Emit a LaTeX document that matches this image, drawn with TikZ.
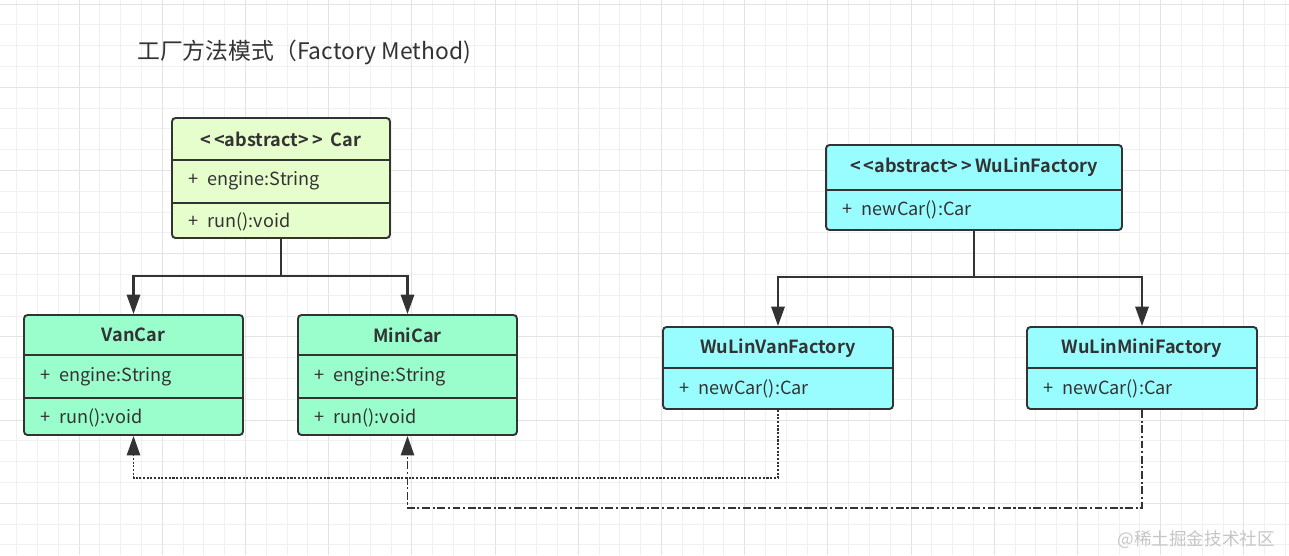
\documentclass[tikz,border=0pt]{standalone}
\usepackage{fontspec}
\setmainfont{Noto Sans CJK SC}[BoldFont={Noto Sans CJK SC Bold}]
\usetikzlibrary{arrows.meta}
\definecolor{carfill}{HTML}{E6FDCC}
\definecolor{subfill}{HTML}{99FDCC}
\definecolor{facfill}{HTML}{99FDFF}
\definecolor{ink}{HTML}{333333}
\def\plus{+\enspace}
\tikzset{
  classbox/.style={draw=ink, line width=1.1pt, rounded corners=2pt, inner sep=0pt},
  sepline/.style={draw=ink, line width=1.1pt},
  classname/.style={font=\bfseries\fontsize{10.3}{12}\selectfont, text=ink},
  member/.style={font=\fontsize{10.3}{12}\selectfont, text=ink, anchor=west, inner sep=0pt},
  inherit/.style={draw=ink, line width=1.4pt, -{Triangle[length=11pt,width=7.5pt]}},
  realizeA/.style={draw=ink, line width=1.1pt, dash pattern=on 1.2pt off 0.9pt, -{Triangle[length=11pt,width=7.5pt]}},
  realizeB/.style={draw=ink, line width=1.1pt, dash pattern=on 4.5pt off 1.5pt on 1.2pt off 1.5pt, -{Triangle[length=11pt,width=7.5pt]}},
}
\begin{document}
\begin{tikzpicture}[x=0.02cm, y=-0.02cm]
\useasboundingbox (0,0) rectangle (1289,555);
\fill[white] (0,0) rectangle (1289,555);

% background grid
\foreach \i in {0,...,61} \draw[gray!12, line width=0.5pt] ({16.7+20.8*\i},0) -- ++(0,555);
\foreach \i in {0,...,26} \draw[gray!12, line width=0.5pt] (0,{4.1+20.8*\i}) -- ++(1289,0);
\foreach \i in {0,...,15} \draw[gray!22, line width=0.5pt] ({79+83.2*\i},0) -- ++(0,555);
\foreach \i in {-1,...,5} \draw[gray!22, line width=0.5pt] (0,{87.3+83.2*\i}) -- ++(1289,0);

\node[anchor=west, font=\fontsize{13}{15}\selectfont, text=ink] (title) at (131,52) {工厂方法模式（Factory Method)};

% product classes
\node[classbox, fill=carfill, minimum width=4.36cm, minimum height=2.4cm] (car) at (281,178) {};
\draw[sepline] (car.west |- 0,160) -- (car.east |- 0,160);
\draw[sepline] (car.west |- 0,203) -- (car.east |- 0,203);
\node[classname] (carname) at (281,139) {<\,<abstract>\,>\ \ Car};
\node[member] (carattr) at (188,181) {\plus engine:String};
\node[member] (carop) at (188,222) {\plus run():void};

\node[classbox, fill=subfill, minimum width=4.38cm, minimum height=2.4cm] (vancar) at (133.5,375) {};
\draw[sepline] (vancar.west |- 0,355) -- (vancar.east |- 0,355);
\draw[sepline] (vancar.west |- 0,398) -- (vancar.east |- 0,398);
\node[classname] (vancarname) at (133.5,335) {VanCar};
\node[member] (vancarattr) at (40,377) {\plus engine:String};
\node[member] (vancarop) at (40,418) {\plus run():void};

\node[classbox, fill=subfill, minimum width=4.38cm, minimum height=2.4cm] (minicar) at (407.5,375) {};
\draw[sepline] (minicar.west |- 0,355) -- (minicar.east |- 0,355);
\draw[sepline] (minicar.west |- 0,398) -- (minicar.east |- 0,398);
\node[classname] (minicarname) at (407.5,335) {MiniCar};
\node[member] (minicarattr) at (314,377) {\plus engine:String};
\node[member] (minicarop) at (314,418) {\plus run():void};

% factory classes
\node[classbox, fill=facfill, minimum width=5.92cm, minimum height=1.7cm] (wlfac) at (974,187.5) {};
\draw[sepline] (wlfac.west |- 0,190) -- (wlfac.east |- 0,190);
\node[classname] (wlfacname) at (974,167) {<\,<abstract>\,>\,WuLinFactory};
\node[member] (wlfacop) at (842,210) {\plus newCar():Car};

\node[classbox, fill=facfill, minimum width=4.6cm, minimum height=1.64cm] (vanfac) at (778,368) {};
\draw[sepline] (vanfac.west |- 0,368) -- (vanfac.east |- 0,368);
\node[classname] (vanfacname) at (778,348) {WuLinVanFactory};
\node[member] (vanfacop) at (679,389) {\plus newCar():Car};

\node[classbox, fill=facfill, minimum width=4.6cm, minimum height=1.64cm] (minifac) at (1142,368) {};
\draw[sepline] (minifac.west |- 0,368) -- (minifac.east |- 0,368);
\node[classname] (minifacname) at (1142,348) {WuLinMiniFactory};
\node[member] (minifacop) at (1043,389) {\plus newCar():Car};

% inheritance
\draw[inherit] (car.south) -- ++(0,37) -| (vancar.north);
\draw[inherit] (car.south) -- ++(0,37) -| (minicar.north);
\draw[inherit] (wlfac.south) -- ++(0,46) -| (vanfac.north);
\draw[inherit] (wlfac.south) -- ++(0,46) -| (minifac.north);

% factory -> product
\draw[realizeA] (vanfac.south) -- (vanfac.south |- 0,478) -| (vancar.south);
\draw[realizeB] (minifac.south) -- (minifac.south |- 0,508) -| (minicar.south);

\node[anchor=east, font=\fontsize{10}{12}\selectfont, text=gray!45] (mark) at (1281,540) {@稀土掘金技术社区};
\end{tikzpicture}
\end{document}
